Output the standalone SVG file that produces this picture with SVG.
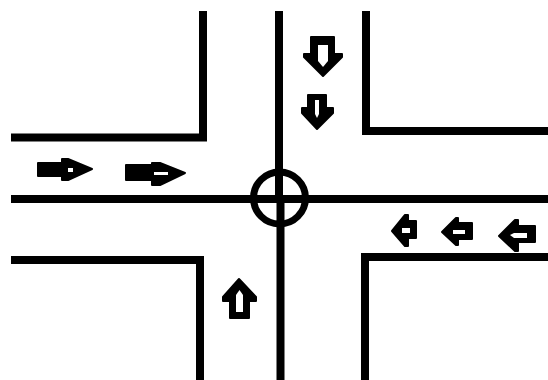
<svg xmlns="http://www.w3.org/2000/svg" width="548" height="380" viewBox="0 0 548 380">
<style>
.road{fill:none;stroke:#000;stroke-width:8}
.hub{fill:none;stroke:#000;stroke-width:7}
.arrow{fill:#000;stroke:#000;stroke-width:2;stroke-linejoin:round}
.slit{fill:#fff}
</style>
<rect width="548" height="380" fill="#fff"/>
<g id="roads">
<path class="road" d="M11 137.500H203V11"/>
<path class="road" d="M11 199H548"/>
<path class="road" d="M11 260H200V380"/>
<path class="road" d="M279 11V199M280.500 199V380"/>
<path class="road" d="M366 11V131H548"/>
<path class="road" d="M548 257H365V380"/>
</g>
<g id="intersection"><circle class="hub" cx="279.500" cy="198" r="26"/></g>
<g id="arrow-east-1"><path class="arrow" d="M38 163H62V159H68L92 169L68 180H62V176H38Z"/><rect class="slit" x="68" y="168" width="5" height="4"/></g>
<g id="arrow-east-2"><path class="arrow" d="M126 165H152V163H160L185 173L160 185H152V180H126Z"/><rect class="slit" x="154" y="172" width="14" height="3"/></g>
<g id="arrow-south-1"><path class="arrow" d="M311 37H334V54H342V57L323 76L304 57V54H311Z"/><path class="slit" d="M318 45H328V61L323 67L318 61Z"/></g>
<g id="arrow-south-2"><path class="arrow" d="M308 95H326V108H333V113L317 129L302 113V108H308Z"/><path class="slit" d="M315 100H319V114L317 118L315 114Z"/></g>
<g id="arrow-west-1"><path class="arrow" d="M392 231L405 215H408V221H416V238H408V246H405Z"/><rect class="slit" x="402" y="228" width="8" height="5"/></g>
<g id="arrow-west-2"><path class="arrow" d="M442 232L456 218H458V223H472V239H458V245H456Z"/><rect class="slit" x="453" y="230" width="12" height="4"/></g>
<g id="arrow-west-3"><path class="arrow" d="M499 236L515 220H518V226H535V242H518V251H515Z"/><path class="slit" d="M510 235L514 233H527V238H514Z"/></g>
<g id="arrow-north"><path class="arrow" d="M239 279L256 297V301H249V318H230V301H223V297Z"/><path class="slit" d="M236 295L239.500 290L243 295V312H236Z"/></g>
</svg>
